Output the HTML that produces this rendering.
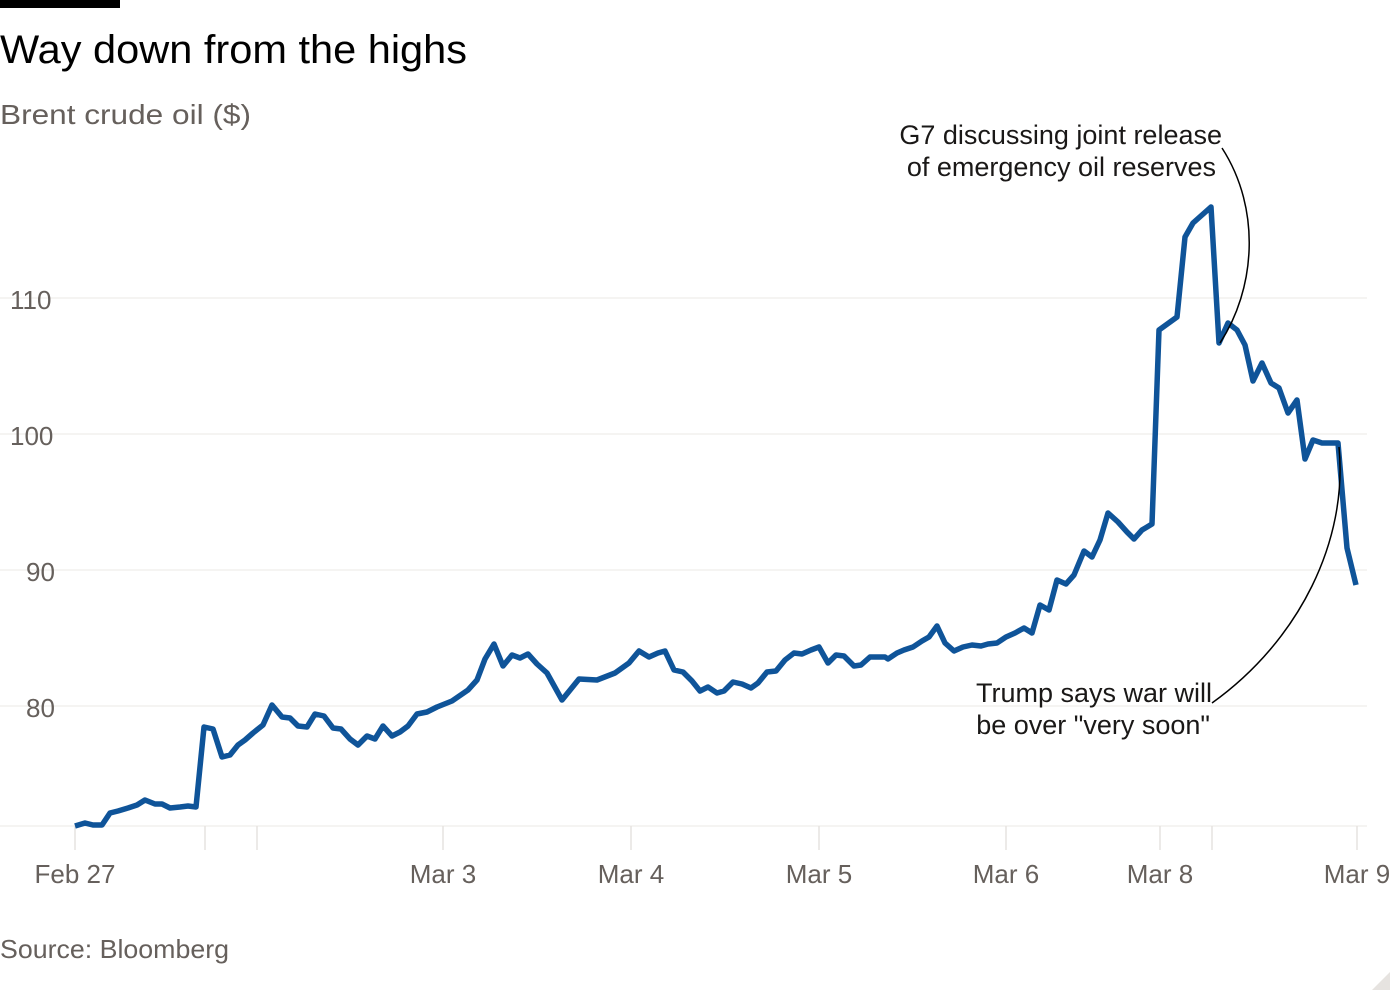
<!DOCTYPE html>
<html><head><meta charset="utf-8"><style>
body{margin:0;background:#fff;width:1400px;height:1000px;overflow:hidden;font-family:"Liberation Sans",sans-serif}
</style></head><body>
<svg width="1400" height="1000" viewBox="0 0 1400 1000" xmlns="http://www.w3.org/2000/svg" font-family="Liberation Sans, sans-serif">
<rect x="0" y="0" width="120" height="8" fill="#000"/>
<text x="0" y="63" font-size="40" fill="#000" textLength="467" lengthAdjust="spacingAndGlyphs">Way down from the highs</text>
<text x="0" y="124" font-size="28" fill="#66605c" textLength="251" lengthAdjust="spacingAndGlyphs">Brent crude oil ($)</text>
<g stroke="#f2f0ee" stroke-width="1.5">
<line x1="0" y1="298" x2="1367" y2="298"/>
<line x1="0" y1="434" x2="1367" y2="434"/>
<line x1="0" y1="570" x2="1367" y2="570"/>
<line x1="0" y1="706" x2="1367" y2="706"/>
<line x1="0" y1="826" x2="1367" y2="826"/>
</g>
<g stroke="#e6e3e0" stroke-width="1.5">
<line x1="75" y1="826" x2="75" y2="850"/><line x1="205" y1="826" x2="205" y2="850"/><line x1="257" y1="826" x2="257" y2="850"/>
<line x1="443" y1="826" x2="443" y2="850"/><line x1="631" y1="826" x2="631" y2="850"/><line x1="819" y1="826" x2="819" y2="850"/>
<line x1="1006" y1="826" x2="1006" y2="850"/><line x1="1160" y1="826" x2="1160" y2="850"/><line x1="1212" y1="826" x2="1212" y2="850"/>
<line x1="1357" y1="826" x2="1357" y2="850"/>
</g>
<g font-size="26" fill="#66605c">
<text x="10" y="309">110</text><text x="10" y="445">100</text><text x="26" y="581">90</text><text x="26" y="717">80</text>
</g>
<g font-size="26" fill="#66605c" text-anchor="middle">
<text x="75" y="883">Feb 27</text><text x="443" y="883">Mar 3</text><text x="631" y="883">Mar 4</text><text x="819" y="883">Mar 5</text>
<text x="1006" y="883">Mar 6</text><text x="1160" y="883">Mar 8</text><text x="1357" y="883">Mar 9</text>
</g>
<polyline fill="none" stroke="#0f5499" stroke-width="5.5" stroke-linejoin="round" points="
75,826 85,823 93,825 102,825 110,813 118,811 128,808 137,805 145,800 155,804 162,804 170,808 180,807 188,806 196,807 204,727 213,729 222,757 230,755 238,745 245,740 253,733 263,725 272,705 282,717 290,718 298,726 307,727 315,714 324,716 333,728 341,729 350,739 358,745 367,736 375,739 383,726 392,736 400,732 408,726 417,714 427,712 437,707 452,701 468,690 477,680 485,659 494,644 503,666 512,655 520,658 528,654 537,664 547,673
562,700 579,679 597,680 615,673 629,663 639,651 649,657 658,653 665,651 674,670 683,672 692,681 700,691 708,687 717,693 724,691 733,682 742,684 751,688 758,683 767,672 776,671 785,660 794,653 802,654 811,650 819,647 828,663 836,655 844,656 854,666 861,665 870,657 885,657 888,659 897,653 904,650 913,647 922,641 929,637 937,626 945,643 954,651 963,647 972,645 981,646 988,644 997,643 1006,637 1015,633 1024,628 1032,633 1040,605 1049,610 1057,580 1066,584 1074,575 1084,551 1092,557 1100,540
1108,513 1118,522 1127,532 1134,539 1142,530 1152,524 1159,330 1177,317 1185,237 1193,223 1211,207 1219,343 1228,323 1237,330 1245,345 1253,381 1262,363 1271,383 1279,388 1288,413 1297,400 1305,459 1313,440 1322,443 1338,443 1347,548 1356,585"/>
<g fill="none" stroke="#000" stroke-width="1.5">
<path d="M1222,148 C1262,210 1255,290 1220,343"/>
<path d="M1212,703 C1300,640 1348,540 1339,447"/>
</g>
<g font-size="27" fill="#1a1817" text-anchor="end">
<text x="1222" y="144">G7 discussing joint release</text>
<text x="1216" y="176">of emergency oil reserves</text>
<text x="1212" y="702">Trump says war will</text>
<text x="1210" y="734">be over "very soon"</text>
</g>
<text x="0" y="958" font-size="26" fill="#66605c" textLength="229" lengthAdjust="spacingAndGlyphs">Source: Bloomberg</text>
<path d="M1372,990 L1390,972 L1390,990 Z" fill="#e6e3e0"/>
</svg>
</body></html>
